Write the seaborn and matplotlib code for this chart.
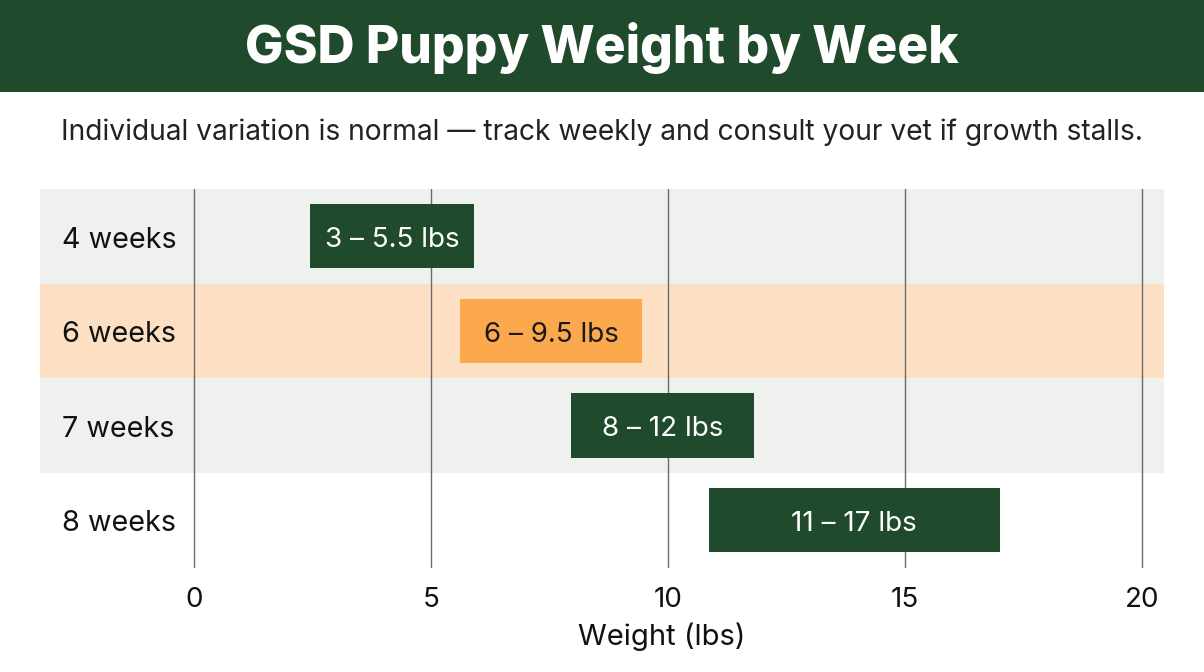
import matplotlib
matplotlib.use("Agg")
import matplotlib.pyplot as plt
import seaborn as sns
import pandas as pd
from matplotlib.patches import Rectangle

# ---- data ----
weeks = ["4 weeks", "6 weeks", "7 weeks", "8 weeks"]
range_labels = ["3 – 5.5 lbs", "6 – 9.5 lbs", "8 – 12 lbs", "11 – 17 lbs"]
bar_start = [2.45, 5.6, 7.95, 10.85]
bar_end = [5.9, 9.45, 11.8, 17.0]
highlight = [False, True, False, False]
x_ticks = [0, 5, 10, 15, 20]

title = "GSD Puppy Weight by Week"
subtitle = "Individual variation is normal — track weekly and consult your vet if growth stalls."
xlabel = "Weight (lbs)"

GREEN = "#1f4a2c"
ORANGE = "#fca94d"
ORANGE_BAND = "#fde0c3"
GRAY_BAND = "#eef1ee"

sns.set_theme(style="white")
plt.rcParams["font.family"] = ["Inter", "DejaVu Sans"]

W, H = 1204, 672
fig = plt.figure(figsize=(W / 100, H / 100), dpi=100)
fig.patch.set_facecolor("white")

# title banner
fig.patches.append(Rectangle((0, 1 - 92 / H), 1, 92 / H, transform=fig.transFigure,
                             facecolor=GREEN, edgecolor="none", zorder=0))
fig.text(0.5, 1 - 48 / H, title, ha="center", va="center", color="white",
         fontsize=37, fontweight=800)
fig.text(0.5, 1 - 132 / H, subtitle, ha="center", va="center", color="#222222",
         fontsize=20.3)

left, right, top, bottom = 40, 1164, 189, 567.5
ax = fig.add_axes([left / W, 1 - bottom / H, (right - left) / W, (bottom - top) / H])

df = pd.DataFrame({"week": weeks, "end": bar_end})
palette = {w: (ORANGE if h else GREEN) for w, h in zip(weeks, highlight)}
sns.barplot(data=df, x="end", y="week", hue="week", palette=palette, orient="h",
            width=0.68, legend=False, ax=ax, zorder=3, saturation=1, edgecolor="none")

# turn bars into floating range bars
for patch, s, e in zip(ax.patches, bar_start, bar_end):
    patch.set_x(s)
    patch.set_width(e - s)

px_per_unit = 47.4
x0_px = 194.3
xmin = -(x0_px - left) / px_per_unit
xmax = (right - x0_px) / px_per_unit
ax.set_xlim(xmin, xmax)
ax.set_ylim(3.5, -0.5)

# row bands
band_colors = [GRAY_BAND, ORANGE_BAND, GRAY_BAND, None]
for i, c in enumerate(band_colors):
    if c:
        ax.axhspan(i - 0.5, i + 0.5, color=c, zorder=0, lw=0)

# gridlines
for t in x_ticks:
    ax.axvline(t, color="#6b6b6b", lw=1.0, zorder=1)

# row labels & bar labels
label_x = (62 - x0_px) / px_per_unit
dy = 0.04
for i, (w, lab, s, e, h) in enumerate(zip(weeks, range_labels, bar_start, bar_end, highlight)):
    ax.text(label_x, i + dy, w, ha="left", va="center", fontsize=20.7, color="#111111", zorder=4)
    ax.text((s + e) / 2, i + dy, lab, ha="center", va="center", fontsize=20,
            color=("#1a1a1a" if h else "white"), zorder=4)

ax.set_xticks(x_ticks)
ax.set_xticklabels([str(t) for t in x_ticks], fontsize=20, color="#111111")
ax.tick_params(axis="x", length=0, pad=14)
ax.set_yticks([])
ax.set_ylabel("")
ax.set_xlabel(xlabel, fontsize=21, color="#111111", labelpad=8)
ax.xaxis.set_label_coords((662 - left) / (right - left), -0.145)
for sp in ax.spines.values():
    sp.set_visible(False)
ax.set_facecolor("none")

fig.savefig("out.png", dpi=100, facecolor="white")
